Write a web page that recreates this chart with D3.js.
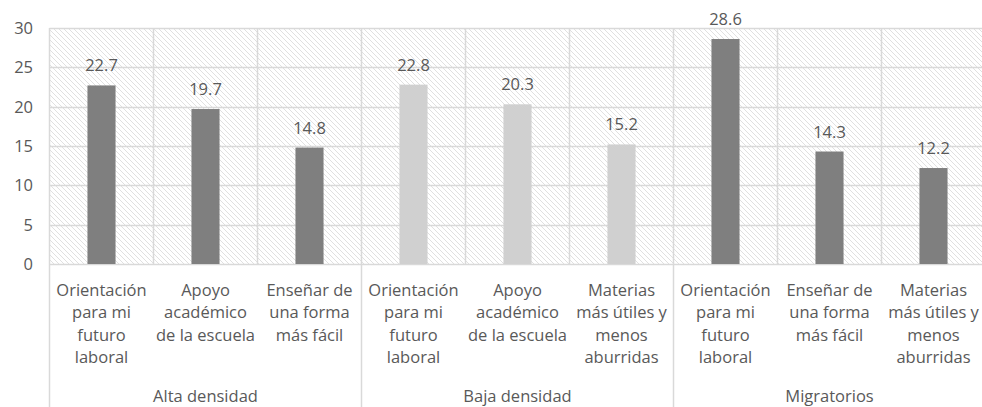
<!DOCTYPE html>
<html>
<head>
<meta charset="utf-8">
<script src="https://cdn.jsdelivr.net/npm/d3@7"></script>
<style>
  html, body { margin: 0; padding: 0; background: #fff; }
  svg { display: block; }
  text { font-family: "Open Sans", Lato, sans-serif; fill: #595959; }
</style>
</head>
<body>
<svg id="chart" width="982" height="407"></svg>
<script>
// Groups, category labels (one entry per line) and values
const groups = ["Alta densidad", "Baja densidad", "Migratorios"];
const categoryLines = [
  ["Orientación", "para mi", "futuro", "laboral"],
  ["Apoyo", "académico", "de la escuela"],
  ["Enseñar de", "una forma", "más fácil"],
  ["Orientación", "para mi", "futuro", "laboral"],
  ["Apoyo", "académico", "de la escuela"],
  ["Materias", "más útiles y", "menos", "aburridas"],
  ["Orientación", "para mi", "futuro", "laboral"],
  ["Enseñar de", "una forma", "más fácil"],
  ["Materias", "más útiles y", "menos", "aburridas"]
];
const values = [22.7, 19.7, 14.8, 22.8, 20.3, 15.2, 28.6, 14.3, 12.2];
const groupIndex = [0, 0, 0, 1, 1, 1, 2, 2, 2];
const yTicks = [0, 5, 10, 15, 20, 25, 30];

const groupColors = ["#7f7f7f", "#d0d0d0", "#7f7f7f"];
const gridColor = "#d9d9d9";

const svg = d3.select("#chart");
const plotLeft = 49.5, plotTop = 28, plotBottom = 264, step = 104;
const n = values.length;

const x = d3.scaleBand()
  .domain(d3.range(n))
  .range([plotLeft, plotLeft + step * n])
  .padding(0);
const y = d3.scaleLinear().domain([0, 30]).range([plotBottom, plotTop]);
const barW = x.bandwidth() * 0.27;

// Hatched plot background
const defs = svg.append("defs");
const pat = defs.append("pattern")
  .attr("id", "hatch")
  .attr("patternUnits", "userSpaceOnUse")
  .attr("width", 5).attr("height", 5);
pat.append("rect").attr("width", 5).attr("height", 5).attr("fill", "#fff");
pat.append("path")
  .attr("d", "M-1,-1L6,6M-1,4L1,6M4,-1L6,1")
  .attr("stroke", "#dcdcdc")
  .attr("stroke-width", 0.9);

svg.append("rect")
  .attr("x", plotLeft).attr("y", plotTop)
  .attr("width", step * n).attr("height", plotBottom - plotTop)
  .attr("fill", "url(#hatch)");

// Horizontal gridlines
svg.append("g").selectAll("line")
  .data(yTicks)
  .join("line")
  .attr("x1", plotLeft).attr("x2", plotLeft + step * n)
  .attr("y1", d => Math.round(y(d)) + 0.5).attr("y2", d => Math.round(y(d)) + 0.5)
  .attr("stroke", gridColor).attr("stroke-width", 1.5);

// Vertical gridlines at category boundaries
svg.append("g").selectAll("line")
  .data(d3.range(n + 1))
  .join("line")
  .attr("x1", i => plotLeft + step * i).attr("x2", i => plotLeft + step * i)
  .attr("y1", plotTop).attr("y2", plotBottom)
  .attr("stroke", gridColor).attr("stroke-width", 1.5);

// Group separators below the axis
svg.append("g").selectAll("line")
  .data([0, 3, 6, 9])
  .join("line")
  .attr("x1", i => plotLeft + step * i).attr("x2", i => plotLeft + step * i)
  .attr("y1", plotBottom).attr("y2", 407)
  .attr("stroke", gridColor).attr("stroke-width", 1.5);

// Y axis tick labels
svg.append("g").selectAll("text")
  .data(yTicks)
  .join("text")
  .attr("x", 33)
  .attr("y", d => y(d))
  .attr("dy", "0.36em")
  .attr("text-anchor", "end")
  .attr("font-size", 16.5)
  .text(d => d);

// Bars
svg.append("g").selectAll("rect")
  .data(values)
  .join("rect")
  .attr("x", (d, i) => x(i) + x.bandwidth() / 2 - barW / 2)
  .attr("width", barW)
  .attr("y", d => y(d))
  .attr("height", d => y(0) - y(d))
  .attr("fill", (d, i) => groupColors[groupIndex[i]]);

// Value labels
svg.append("g").selectAll("text")
  .data(values)
  .join("text")
  .attr("x", (d, i) => x(i) + x.bandwidth() / 2)
  .attr("y", d => y(d) - 14)
  .attr("text-anchor", "middle")
  .attr("font-size", 16.5)
  .attr("fill", "#404040")
  .text(d => d.toFixed(1));

// Category labels
const cat = svg.append("g").selectAll("text")
  .data(categoryLines)
  .join("text")
  .attr("text-anchor", "middle")
  .attr("font-size", 16.5)
  .attr("transform", (d, i) => `translate(${x(i) + x.bandwidth() / 2},0)`);
cat.selectAll("tspan")
  .data(d => d)
  .join("tspan")
  .attr("x", 0)
  .attr("y", (d, j) => 290 + j * 22.5)
  .attr("dy", "0.36em")
  .text(d => d);

// Group labels
svg.append("g").selectAll("text")
  .data(groups)
  .join("text")
  .attr("x", (d, g) => plotLeft + step * (g * 3 + 1.5))
  .attr("y", 396)
  .attr("dy", "0.36em")
  .attr("text-anchor", "middle")
  .attr("font-size", 16.5)
  .text(d => d);
</script>
</body>
</html>
